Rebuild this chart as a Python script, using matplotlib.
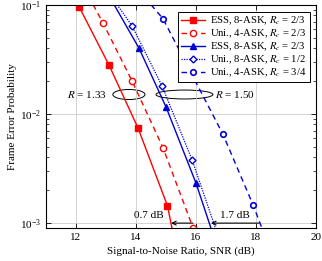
import matplotlib
matplotlib.use("Agg")
import matplotlib.pyplot as plt
from matplotlib.patches import Ellipse
from matplotlib.ticker import NullLocator, LogLocator

plt.rcParams['font.family'] = ['Liberation Serif', 'DejaVu Serif']
plt.rcParams['mathtext.fontset'] = 'stix'

# series (first/last points are where lines leave the frame)
ess8_23_x = [12.1, 13.1, 14.07, 15.05, 15.2]
ess8_23_y = [0.096, 0.028, 0.0074, 0.00144, 0.0009]

uni4_23_x = [12.57, 12.9, 13.87, 14.9, 15.9]
uni4_23_y = [0.1, 0.068, 0.020, 0.0049, 0.00091]

ess8_23b_x = [13.27, 14.1, 15.0, 16.0, 16.5]
ess8_23b_y = [0.1, 0.040, 0.0116, 0.00233, 0.0009]

uni8_12_x = [13.37, 13.87, 14.87, 15.87, 16.65]
uni8_12_y = [0.1, 0.064, 0.018, 0.0038, 0.0009]

uni4_34_x = [14.5, 14.9, 16.9, 17.9, 18.2]
uni4_34_y = [0.1, 0.0745, 0.0065, 0.00148, 0.0009]

labels = [
    'ESS, 8-ASK, $R_c$ = 2/3',
    'Uni., 4-ASK, $R_c$ = 2/3',
    'ESS, 8-ASK, $R_c$ = 2/3',
    'Uni., 8-ASK, $R_c$ = 1/2',
    'Uni., 4-ASK, $R_c$ = 3/4',
]
xticks = [12, 14, 16, 18, 20]

red = '#ff0000'
blue = '#0000d8'

fig = plt.figure(figsize=(3.22, 2.61), dpi=100)
ax = fig.add_axes([0.143, 0.126, 0.838, 0.856])

ax.plot(ess8_23_x, ess8_23_y, color=red, lw=1.0, marker='s', ms=4.5,
        markevery=[0, 1, 2, 3], label=labels[0])
ax.plot(uni4_23_x, uni4_23_y, color=red, lw=1.0, ls=(0, (4, 3)), marker='o', ms=4.5,
        mfc='white', mew=1.0, markevery=[1, 2, 3, 4], label=labels[1])
ax.plot(ess8_23b_x, ess8_23b_y, color=blue, lw=1.0, marker='^', ms=4.5,
        markevery=[1, 2, 3], label=labels[2])
ax.plot(uni8_12_x, uni8_12_y, color=blue, lw=0.9, ls=(0, (1, 1)), marker='D', ms=3.5,
        mfc='white', mew=1.0, markevery=[1, 2, 3], label=labels[3])
ax.plot(uni4_34_x, uni4_34_y, color=blue, lw=1.0, ls=(0, (4, 3)), marker='o', ms=4,
        mfc='white', mew=1.2, markevery=[1, 2, 3], label=labels[4])

ax.set_yscale('log')
ax.set_xlim(11, 20)
ax.set_ylim(9e-4, 0.1)
ax.set_xticks(xticks)
ax.xaxis.set_minor_locator(NullLocator())
ax.yaxis.set_minor_locator(LogLocator(base=10, subs=range(2, 10), numticks=10))
ax.tick_params(which='both', direction='in', top=True, right=True, labelsize=8)
ax.tick_params(which='major', length=3.5, width=0.6)
ax.tick_params(which='minor', length=2, width=0.5)
ax.grid(True, which='major', color='#cccccc', lw=0.6)
for s in ax.spines.values():
    s.set_linewidth(0.8)

ax.set_xlabel('Signal-to-Noise Ratio, SNR (dB)', fontsize=8, labelpad=3)
ax.set_ylabel('Frame Error Probability', fontsize=8, labelpad=2)

# rate ellipses
ax.add_patch(Ellipse((0.307, 0.598), 0.119, 0.045, transform=ax.transAxes,
                     fill=False, ec='black', lw=0.7))
ax.add_patch(Ellipse((0.513, 0.598), 0.211, 0.04, transform=ax.transAxes,
                     fill=False, ec='black', lw=0.7))
ax.text(13.03, 0.0149, '$R$ = 1.33', fontsize=8, ha='right', va='center')
ax.text(16.63, 0.0149, '$R$ = 1.50', fontsize=8, ha='left', va='center')

# gain arrows at FER = 1e-3
ax.annotate('', xy=(15.17, 1e-3), xytext=(15.9, 1e-3),
            arrowprops=dict(arrowstyle='->', lw=0.8, color='black',
                            shrinkA=0, shrinkB=0, mutation_scale=7))
ax.annotate('', xy=(16.5, 1e-3), xytext=(18.1, 1e-3),
            arrowprops=dict(arrowstyle='->', lw=0.8, color='black',
                            shrinkA=0, shrinkB=0, mutation_scale=7))
ax.text(14.93, 1.18e-3, '0.7 dB', fontsize=8, ha='right', va='center')
ax.text(16.8, 1.18e-3, '1.7 dB', fontsize=8, ha='left', va='center')

leg = ax.legend(loc='upper right', bbox_to_anchor=(0.978, 0.969), borderaxespad=0,
                fontsize=7.7, handlelength=2.2, handletextpad=0.5, labelspacing=0.05,
                borderpad=0.3, fancybox=False, framealpha=1, edgecolor='black')
leg.get_frame().set_linewidth(0.7)

fig.savefig('out.png', dpi=100)
